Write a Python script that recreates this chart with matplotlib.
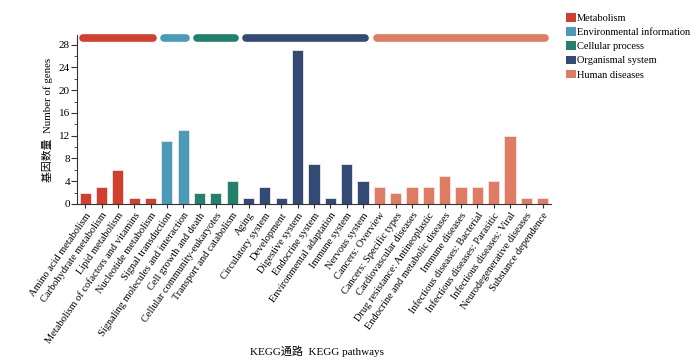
import matplotlib
matplotlib.use("Agg")
import matplotlib.pyplot as plt
from matplotlib.patches import Patch
from matplotlib.ticker import MultipleLocator

categories = [
    "Amino acid metabolism", "Carbohydrate metabolism", "Lipid metabolism",
    "Metabolism of cofactors and vitamins", "Nucleotide metabolism",
    "Signal transduction", "Signaling molecules and interaction",
    "Cell growth and death", "Cellular community-eukaryotes", "Transport and catabolism",
    "Aging", "Circulatory system", "Development", "Digestive system",
    "Endocrine system", "Environmental adaptation", "Immune system", "Nervous system",
    "Cancers: Overview", "Cancers: Specific types", "Cardiovascular diseases",
    "Drug resistance: Antineoplastic", "Endocrine and metabolic diseases",
    "Immune diseases", "Infectious diseases: Bacterial", "Infectious diseases: Parasitic",
    "Infectious diseases: Viral", "Neurodegenerative diseases", "Substance dependence",
]
values = [2, 3, 6, 1, 1,
          11, 13,
          2, 2, 4,
          1, 3, 1, 27, 7, 1, 7, 4,
          3, 2, 3, 3, 5, 3, 3, 4, 12, 1, 1]
groups = ["Metabolism", "Environmental information", "Cellular process",
          "Organismal system", "Human diseases"]
group_sizes = [5, 2, 3, 8, 11]
group_colors = ["#D0402F", "#4A9BBA", "#23806B", "#324A74", "#DE7D63"]

plt.rcParams['font.family'] = ['Liberation Serif', 'Noto Sans CJK SC']

fig = plt.figure(figsize=(7, 3.64), dpi=100)
ax = fig.add_axes([0.110, 0.4396, 0.677, 0.4644])

bar_colors = []
for c, n in zip(group_colors, group_sizes):
    bar_colors += [c] * n

x = list(range(len(categories)))
ax.bar(x, values, width=0.68, color=bar_colors, edgecolor="#f3e6e3", linewidth=0.6, zorder=2)

ymax = 29.7
ax.set_xlim(-0.5, len(categories) - 0.5)
ax.set_ylim(0, ymax)

# group bars on top
start = 0
for c, n in zip(group_colors, group_sizes):
    ax.plot([start - 0.15, start + n - 0.85], [29.15, 29.15], color=c, lw=5.5,
            solid_capstyle="round", clip_on=False, zorder=3)
    start += n

ax.spines['top'].set_visible(False)
ax.spines['right'].set_visible(False)
ax.spines['left'].set_color('#333333')
ax.spines['bottom'].set_color('#333333')
ax.yaxis.set_major_locator(MultipleLocator(4))
ax.yaxis.set_minor_locator(MultipleLocator(2))
ax.tick_params(axis='y', which='major', length=4, labelsize=8, pad=1, color='#333333')
ax.tick_params(axis='y', which='minor', length=2.5, color='#333333')
ax.set_xticks(x)
ax.set_xticklabels(categories, rotation=55, ha='right', rotation_mode='anchor', fontsize=7.5)
ax.tick_params(axis='x', length=3, pad=2, color='#333333')

ax.set_ylabel("基因数量  Number of genes", fontsize=7.8, labelpad=4)
fig.text(0.453, 0.035, "KEGG通路  KEGG pathways", fontsize=8, ha='center', va='center')

handles = [Patch(facecolor=c, edgecolor='none') for c in group_colors]
fig.legend(handles, groups, loc='upper left', bbox_to_anchor=(0.803, 0.975),
           frameon=False, fontsize=7.5, handlelength=0.9, handleheight=0.9,
           handletextpad=0.1, labelspacing=0.4, borderaxespad=0)

fig.savefig("out.png", dpi=100)
